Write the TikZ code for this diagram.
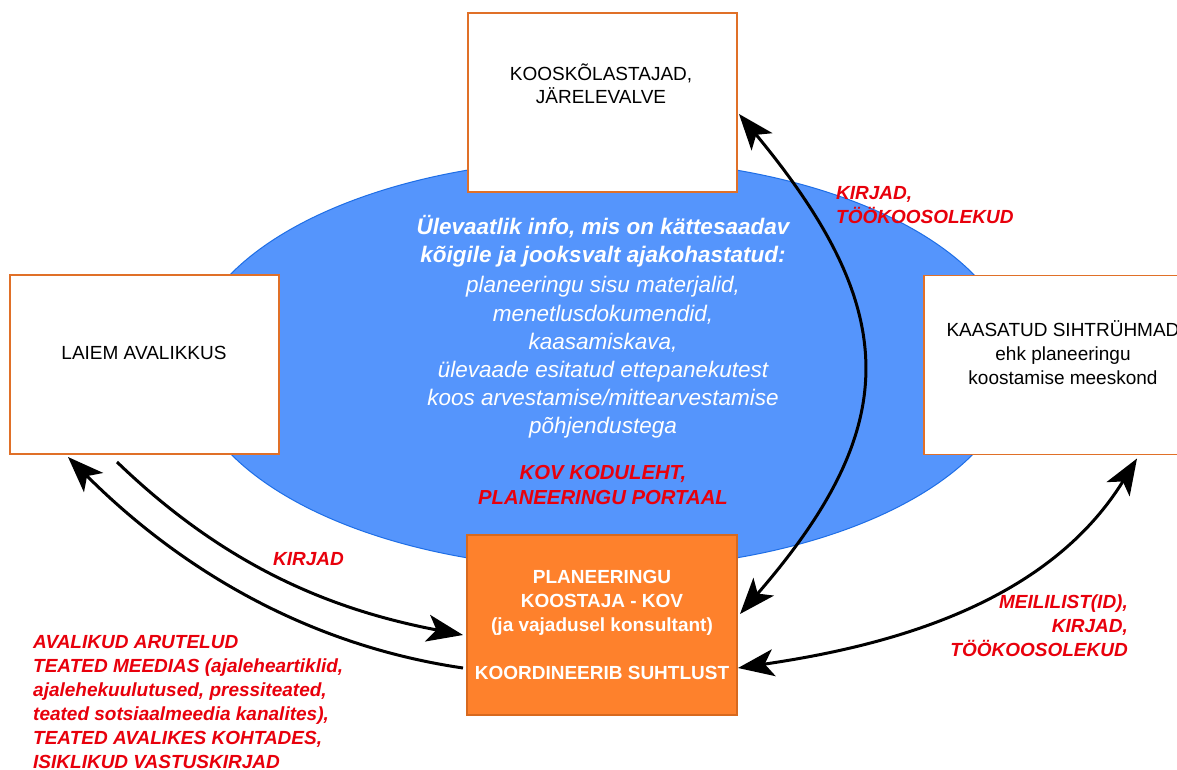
\documentclass[tikz,border=0pt]{standalone}
\usepackage{fontspec}
\setmainfont{Liberation Sans}
\usetikzlibrary{arrows.meta}
\definecolor{boxline}{RGB}{224,112,40}
\definecolor{ellfill}{RGB}{85,149,252}
\definecolor{ellline}{RGB}{30,110,230}
\definecolor{kovfill}{RGB}{254,129,44}
\definecolor{kovline}{RGB}{215,105,30}
\definecolor{labred}{RGB}{232,0,12}
\tikzset{
  whitebox/.style={draw=boxline, line width=1.5pt, fill=white, minimum width=269pt, minimum height=179pt, inner sep=0pt, outer sep=0pt},
  boxtext/.style={font=\fontsize{19}{23.5}\selectfont, align=center, inner sep=0pt, text=black},
  redlabel/.style={font=\fontsize{19}{24}\selectfont\bfseries\itshape, text=labred, inner sep=0pt},
  infohead/.style={font=\fontsize{22.5}{28}\selectfont\bfseries\itshape, text=white, align=center, inner sep=0pt},
  infobody/.style={font=\fontsize{22.5}{28.2}\selectfont\itshape, text=white, align=center, inner sep=0pt},
  flow/.style={line width=3pt, draw=black},
  >={Stealth[length=36pt,width=27pt,inset=9pt]}
}
\begin{document}
\begin{tikzpicture}[x=1pt,y=-1pt]
\clip (0,0) rectangle (1177,770);
\fill[white] (0,0) rectangle (1177,770);
% central ellipse
\draw[fill=ellfill, draw=ellline, line width=1pt] (602,364) ellipse [x radius=413pt, y radius=205pt];
% boxes
\node[whitebox] (koosk) at (602.5,102.5) {};
\node[whitebox] (laiem) at (144.5,364.5) {};
\node[whitebox, minimum width=278pt] (kaas) at (1063,365) {};
\node[draw=kovline, fill=kovfill, line width=1.5pt, minimum width=270pt, minimum height=180pt, inner sep=0pt, outer sep=0pt,
      font=\fontsize{19}{24}\selectfont\bfseries, text=white, align=center] (kov) at (602,625)
  {PLANEERINGU\\KOOSTAJA - KOV\\(ja vajadusel konsultant)\\[24pt]KOORDINEERIB SUHTLUST};
% box texts
\node[boxtext] (kooskt) at (601,84) {KOOSKÕLASTAJAD,\\JÄRELEVALVE};
\node[boxtext] (laiemt) at (144,353) {LAIEM AVALIKKUS};
\node[boxtext, font=\fontsize{19}{24}\selectfont] (kaast) at (1063,352.5) {KAASATUD SIHTRÜHMAD\\ehk planeeringu\\koostamise meeskond};
% ellipse texts
\node[infohead] (head) at (603,241.5) {Ülevaatlik info, mis on kättesaadav\\kõigile ja jooksvalt ajakohastatud:};
\node[infobody] (body) at (603,357.6) {planeeringu sisu materjalid,\\menetlusdokumendid,\\kaasamiskava,\\ülevaade esitatud ettepanekutest\\koos arvestamise/mittearvestamise\\põhjendustega};
\node[redlabel, font=\fontsize{20.3}{25}\selectfont\bfseries\itshape, align=center] (portaal) at (603,485) {KOV KODULEHT,\\PLANEERINGU PORTAAL};
% connectors
\draw[flow, <->] ([shift={(3,79)}]kov.north east) .. controls +(163,-188) and +(163,197) .. ([shift={(2,101)}]koosk.north east);
\draw[flow, <->] ([shift={(1,133)}]kov.north east) .. controls +(150,-22) and +(-90,146) .. ([shift={(213,4)}]kaas.south west);
\draw[flow, ->] ([shift={(107,8)}]laiem.south west) .. controls +(110,106) and +(-130,-25) .. ([shift={(-4,100)}]kov.north west);
\draw[flow, ->] ([shift={(-4,133)}]kov.north west) .. controls +(-170,-25) and +(100,100) .. ([shift={(58,3)}]laiem.south west);
% labels
\node[redlabel, align=left, anchor=north west] (lab1) at (836,186.4) {KIRJAD,\\TÖÖKOOSOLEKUD};
\node[redlabel, anchor=west] (lab2) at (273,559) {KIRJAD};
\node[redlabel, align=left, anchor=north west] (lab3) at (33,635.4) {AVALIKUD ARUTELUD\\TEATED MEEDIAS (ajaleheartiklid,\\ajalehekuulutused, pressiteated,\\teated sotsiaalmeedia kanalites),\\TEATED AVALIKES KOHTADES,\\ISIKLIKUD VASTUSKIRJAD};
\node[redlabel, align=right, anchor=north east] (lab4) at (1128,595) {MEILILIST(ID),\\KIRJAD,\\TÖÖKOOSOLEKUD};
\end{tikzpicture}
\end{document}
